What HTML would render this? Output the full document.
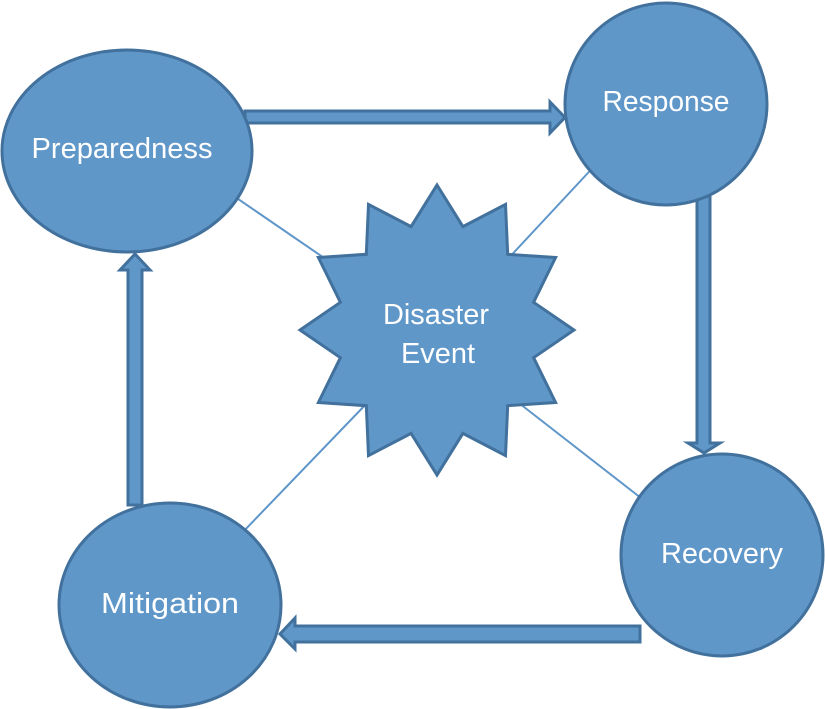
<!DOCTYPE html>
<html><head><meta charset="utf-8"><style>html,body{margin:0;padding:0;background:#fff}svg{display:block}</style></head>
<body>
<svg width="825" height="709" viewBox="0 0 825 709" xmlns="http://www.w3.org/2000/svg">
<g stroke="#5f96c9" stroke-width="2">
<line x1="225" y1="190" x2="330" y2="262"/>
<line x1="600" y1="160" x2="505" y2="262"/>
<line x1="240" y1="535" x2="370" y2="400"/>
<line x1="650" y1="505" x2="515" y2="400"/>
</g>
<g fill="#6097c9" stroke="#41719c" stroke-width="3" stroke-linejoin="miter">
<polygon points="245,111 550,111 550,102 565,117.5 550,133 550,123 245,123"/>
<polygon points="697,190 710,190 710,443 720,443 704,453 688,443 697,443"/>
<polygon points="640,626 295,626 295,618 280,634 295,649 295,642 640,642"/>
<polygon points="128,505 142,505 142,270 150,270 135,254 120,270 128,270"/>
<ellipse cx="127" cy="151" rx="125" ry="101"/>
<circle cx="666" cy="104" r="101"/>
<circle cx="722" cy="555" r="101"/>
<ellipse cx="170" cy="605" rx="111" ry="102"/>
<polygon points="437,185 462.9,226.6 505.5,204.4 507.7,254.3 555.6,257.5 533.6,302.3 574,330 533.6,357.7 555.6,402.5 507.7,405.7 505.5,455.6 462.9,433.4 437,475 411.1,433.4 368.5,455.6 366.3,405.7 318.4,402.5 340.4,357.7 300,330 340.4,302.3 318.4,257.5 366.3,254.3 368.5,204.4 411.1,226.6"/>
</g>
<g fill="#fff" font-family="'Liberation Sans', sans-serif" font-size="29" text-anchor="middle">
<text x="122" y="158" textLength="181" lengthAdjust="spacingAndGlyphs">Preparedness</text>
<text x="666" y="111" textLength="127" lengthAdjust="spacingAndGlyphs">Response</text>
<text x="722" y="563" textLength="122" lengthAdjust="spacingAndGlyphs">Recovery</text>
<text x="170" y="613" textLength="138" lengthAdjust="spacingAndGlyphs">Mitigation</text>
<text x="436" y="324" textLength="106" lengthAdjust="spacingAndGlyphs">Disaster</text>
<text x="438" y="363" textLength="74" lengthAdjust="spacingAndGlyphs">Event</text>
</g>
</svg>
</body></html>
